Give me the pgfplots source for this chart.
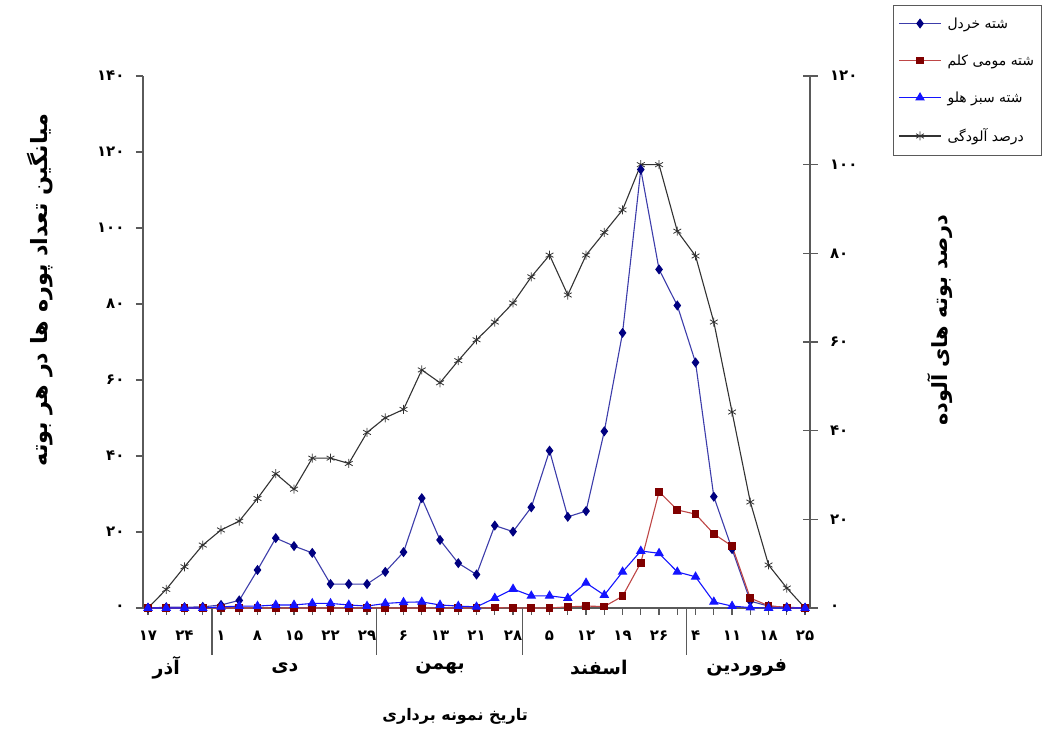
\documentclass[border=0pt]{standalone}
\usepackage{pgfplots}
\pgfplotsset{compat=1.18}
\usepackage{fontspec}
\TeXXeTstate=1
\newfontfamily\fa[Script=Arabic]{DejaVu Sans}

\definecolor{axisgray}{RGB}{90,90,90}
\definecolor{khardalline}{RGB}{60,60,170}
\definecolor{khardalmark}{RGB}{0,0,128}
\definecolor{momiline}{RGB}{190,70,70}
\definecolor{momimark}{RGB}{128,0,0}
\definecolor{sabz}{RGB}{20,20,255}
\definecolor{aloodeh}{RGB}{50,50,50}

\pgfplotsset{
  base/.style={
    at={(143bp,125bp)}, anchor=south west,
    scale only axis, width=667bp, height=532bp,
    xmin=-0.274, xmax=36.27, ymin=0,
    clip=false,
    axis line style={draw=axisgray, line width=1.6bp},
    every tick/.style={draw=axisgray, line width=1.3bp},
    ticklabel style={font=\fa\bfseries\fontsize{15}{15}\selectfont},
  },
}

\begin{document}
\begin{tikzpicture}
\useasboundingbox (0,0) rectangle (1055bp,733bp);

% right axis: percentage of infested plants
\begin{axis}[base,
  ymax=120,
  axis x line=none, axis y line*=right,
  ytick={0,20,...,120},
  yticklabels={۰,۲۰,۴۰,۶۰,۸۰,۱۰۰,۱۲۰},
  tick align=center, major tick length=15bp,
  yticklabel style={xshift=9bp},
  ylabel={\fa\beginR درصد بوته های آلوده\endR},
  ylabel style={at={(axis description cs:1.195,0.541)}, anchor=center,
    font=\fa\bfseries\fontsize{21}{21}\selectfont},
]
\addplot[color=aloodeh, line width=1.1bp, mark=asterisk, mark size=4.5bp,
  mark options={line width=0.8bp}] coordinates {
(0,0) (1,4.2) (2,9.3) (3,14.2) (4,17.6) (5,19.6) (6,24.7) (7,30.3) (8,26.8)
(9,33.8) (10,33.8) (11,32.6) (12,39.6) (13,42.9) (14,44.8) (15,53.7) (16,50.8)
(17,55.8) (18,60.5) (19,64.5) (20,68.8) (21,74.7) (22,79.6) (23,70.6) (24,79.6)
(25,84.7) (26,89.8) (27,100) (28,100) (29,85) (30,79.4) (31,64.5) (32,44.2)
(33,23.9) (34,9.7) (35,4.5) (36,0)
};
\end{axis}

% left axis: mean number of nymphs per plant
\begin{axis}[base,
  ymax=140,
  axis x line*=bottom, axis y line*=left,
  xtick={0,...,36},
  xticklabels={۱۷,,۲۴,,۱,,۸,,۱۵,,۲۲,,۲۹,,۶,,۱۳,,۲۱,,۲۸,,۵,,۱۲,,۱۹,,۲۶,,۴,,۱۱,,۱۸,,۲۵},
  ytick={0,20,...,140},
  yticklabels={۰,۲۰,۴۰,۶۰,۸۰,۱۰۰,۱۲۰,۱۴۰},
  tick align=outside, major tick length=7bp,
  yticklabel style={xshift=-8bp},
  xticklabel style={yshift=-12bp},
  ylabel={\fa\beginR میانگین تعداد پوره ها در هر بوته\endR},
  ylabel style={at={(axis description cs:-0.154,0.598)}, anchor=center,
    font=\fa\bfseries\fontsize{22.5}{22.5}\selectfont},
  xlabel={\fa\beginR تاریخ نمونه برداری\endR},
  xlabel style={at={(axis description cs:0.468,-0.203)}, anchor=center,
    font=\fa\bfseries\fontsize{16}{16}\selectfont},
  legend style={at={(axis description cs:1.1244,1.1335)}, anchor=north west,
    draw=axisgray, line width=1bp, fill=white,
    font=\fa\fontsize{14}{14}\selectfont,
    row sep=21bp, inner xsep=5bp, inner ysep=10bp},
  legend cell align=left,
  legend image code/.code={
    \draw[mark repeat=2, mark phase=2, #1]
      plot coordinates {(0bp,0bp) (21bp,0bp) (42bp,0bp)};},
]
\addplot[color=khardalline, line width=1.1bp, mark=diamond*, mark size=4.2bp,
  mark options={fill=khardalmark, draw=khardalmark}] coordinates {
(0,0) (1,0.2) (2,0.2) (3,0.3) (4,0.8) (5,2) (6,10) (7,18.4) (8,16.3) (9,14.5)
(10,6.3) (11,6.3) (12,6.3) (13,9.5) (14,14.7) (15,28.9) (16,17.9) (17,11.8)
(18,8.8) (19,21.7) (20,20.1) (21,26.5) (22,41.4) (23,24) (24,25.5) (25,46.5)
(26,72.4) (27,115.4) (28,89.1) (29,79.6) (30,64.6) (31,29.3) (32,15.5) (33,1.8)
(34,0.5) (35,0.2) (36,0)
};
\addlegendentry{\hspace{4bp}\fa\beginR شته خردل\endR}
\addplot[color=momiline, line width=1.1bp, mark=square*, mark size=3.3bp,
  mark options={fill=momimark, draw=momimark}] coordinates {
(0,0) (1,0) (2,0) (3,0) (4,0) (5,0) (6,0) (7,0) (8,0) (9,0) (10,0) (11,0)
(12,0) (13,0) (14,0) (15,0) (16,0) (17,0) (18,0) (19,0.1) (20,0) (21,0) (22,0)
(23,0.3) (24,0.5) (25,0.4) (26,3.1) (27,11.9) (28,30.6) (29,25.8) (30,24.7)
(31,19.5) (32,16.3) (33,2.6) (34,0.6) (35,0.1) (36,0)
};
\addlegendentry{\hspace{4bp}\fa\beginR شته مومی کلم\endR}
\addplot[color=sabz, line width=1.1bp, mark=triangle*, mark size=4.5bp,
  mark options={fill=sabz, draw=sabz}] coordinates {
(0,0) (1,0) (2,0) (3,0) (4,0.3) (5,0.5) (6,0.5) (7,0.8) (8,0.8) (9,1.2)
(10,1.2) (11,0.8) (12,0.5) (13,1.2) (14,1.5) (15,1.6) (16,0.8) (17,0.5)
(18,0.3) (19,2.6) (20,5) (21,3.2) (22,3.2) (23,2.6) (24,6.6) (25,3.4) (26,9.5)
(27,15) (28,14.4) (29,9.5) (30,8.2) (31,1.6) (32,0.5) (33,0.1) (34,0) (35,0)
(36,0)
};
\addlegendentry{\hspace{4bp}\fa\beginR شته سبز هلو\endR}
\addlegendimage{color=aloodeh, line width=1.1bp, mark=asterisk, mark size=4.5bp,
  mark options={line width=0.8bp}}
\addlegendentry{\hspace{4bp}\fa\beginR درصد آلودگی\endR}

% month separators and month names
\foreach \m in {3.5,12.5,20.5,29.5}{
  \edef\tmp{\noexpand\draw[axisgray, line width=1.3bp] (axis cs:\m,0) -- ([yshift=-47bp]axis cs:\m,0);}
  \tmp
}
\begin{scope}[every node/.style={font=\fa\bfseries\fontsize{19}{19}\selectfont}]
\node at (axis cs:1,0) [yshift=-60bp] {\fa\beginR آذر\endR};
\node at (axis cs:7.5,0) [yshift=-60bp] {\fa\beginR دی\endR};
\node at (axis cs:16,0) [yshift=-60bp] {\fa\beginR بهمن\endR};
\node at (axis cs:24.7,0) [yshift=-60bp] {\fa\beginR اسفند\endR};
\node at (axis cs:32.8,0) [yshift=-60bp] {\fa\beginR فروردین\endR};
\end{scope}
\end{axis}
\end{tikzpicture}
\end{document}
